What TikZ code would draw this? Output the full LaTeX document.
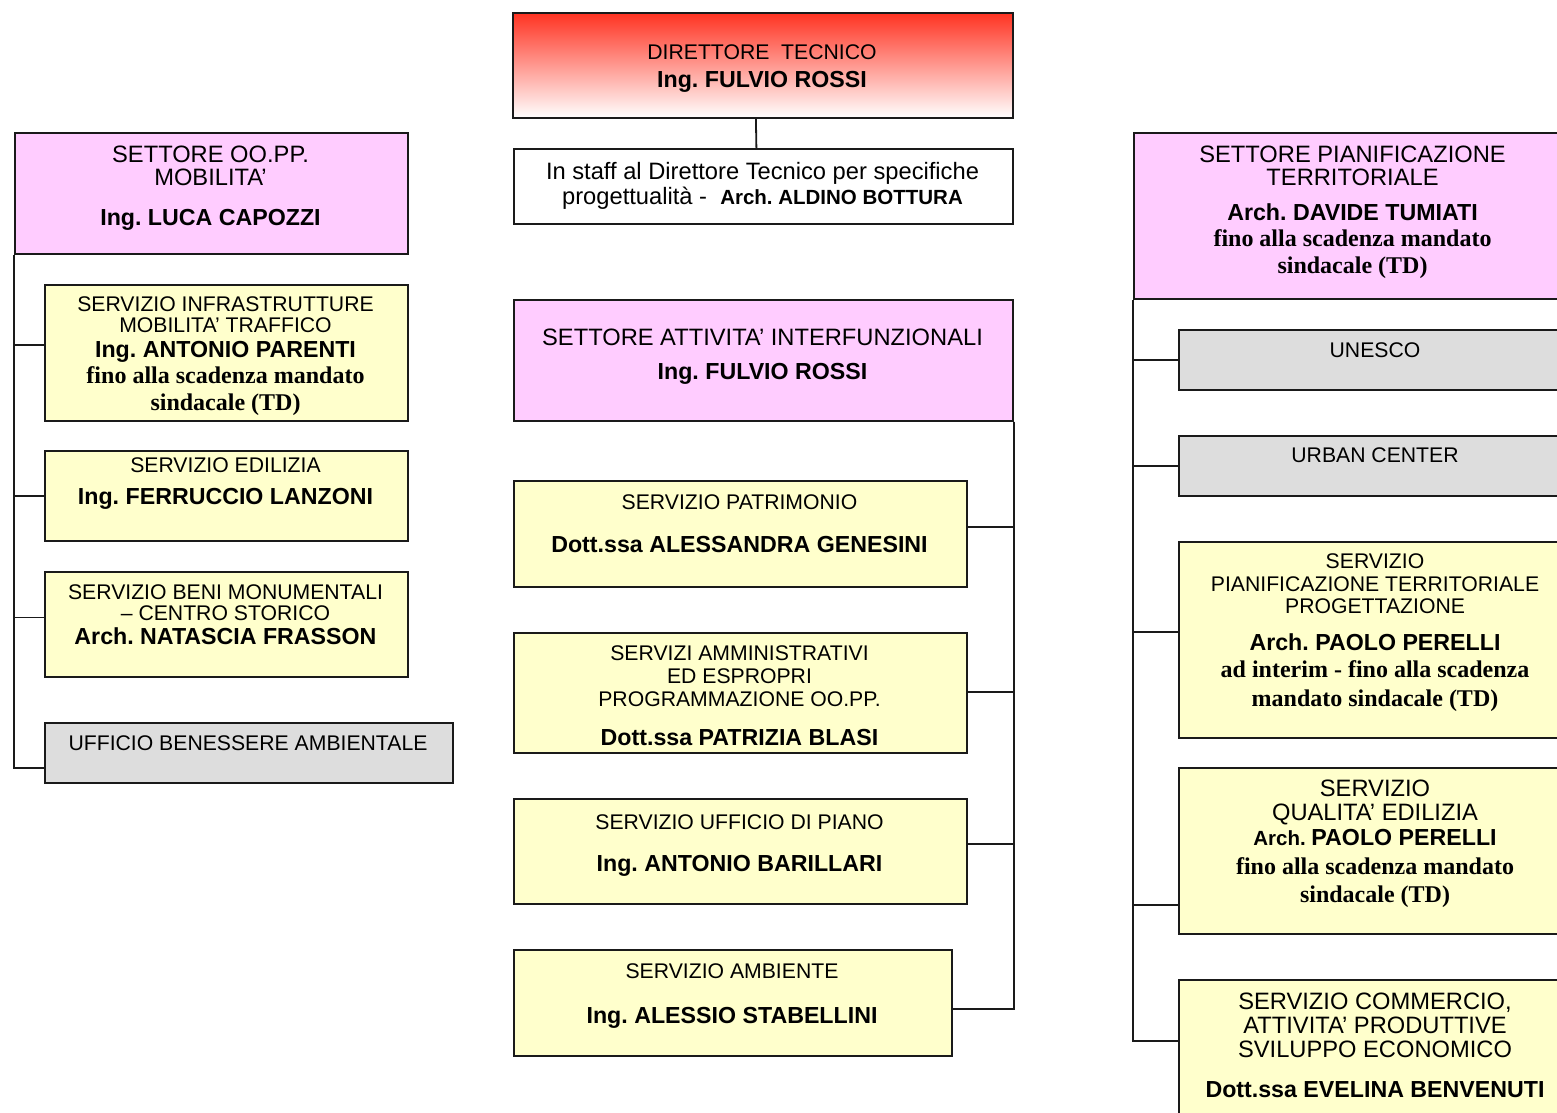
\documentclass[tikz,border=0pt]{standalone}
\usepackage{fontspec}
\setmainfont{Liberation Sans}
\newfontfamily\serifbf{Liberation Serif}
\definecolor{pinkc}{HTML}{FFCCFF}
\definecolor{yelc}{HTML}{FFFFCC}
\definecolor{grayc}{HTML}{DDDDDD}
\definecolor{redc}{HTML}{FF3322}
\definecolor{linec}{HTML}{1A1A1A}
\newcommand\frg{\fontsize{21.2}{0}\selectfont}
\newcommand\fset{\fontsize{23.7}{0}\selectfont}
\newcommand\fbd{\fontsize{23.2}{0}\selectfont\bfseries}
\newcommand\fbs{\fontsize{20.5}{0}\selectfont\bfseries}
\newcommand\ftm{\serifbf\fontsize{24}{0}\selectfont\bfseries}
\lineskiplimit=-1000pt
\lineskip=0pt
\frenchspacing
\tikzset{
  box/.style={draw=linec, line width=1.8pt, inner sep=0pt, anchor=north west},
  pinkbox/.style={box, fill=pinkc},
  yelbox/.style={box, fill=yelc},
  graybox/.style={box, fill=grayc},
  lbl/.style={anchor=north, align=center, inner sep=0pt, text=black, font=\frg},
  conn/.style={draw=linec, line width=1.8pt}
}
\begin{document}
\begin{tikzpicture}[x=1pt,y=-1pt]
\useasboundingbox (0,0) rectangle (1557,1112);
\fill[white] (0,0) rectangle (1557,1112);
\clip (0,0) rectangle (1557,1112);

% ---------- top ----------
\node[box, top color=redc, bottom color=white, minimum width=500pt, minimum height=105pt] (dir) at (512,12) {};
\node[box, fill=white, minimum width=499pt, minimum height=75pt] (staff) at (513,148) {};

% ---------- left column ----------
\node[pinkbox, minimum width=393pt, minimum height=121pt] (s1) at (14,132) {};
\node[yelbox, minimum width=363pt, minimum height=136pt] (infra) at (44,284) {};
\node[yelbox, minimum width=363pt, minimum height=90pt] (edil) at (44,450) {};
\node[yelbox, minimum width=363pt, minimum height=105pt] (beni) at (44,571) {};
\node[graybox, minimum width=408pt, minimum height=60pt] (benes) at (44,722) {};

% ---------- middle column ----------
\node[pinkbox, minimum width=499pt, minimum height=121pt] (s2) at (513,299) {};
\node[yelbox, minimum width=453pt, minimum height=106pt] (patr) at (513,480) {};
\node[yelbox, minimum width=453pt, minimum height=120pt] (amm) at (513,632) {};
\node[yelbox, minimum width=453pt, minimum height=105pt] (piano) at (513,798) {};
\node[yelbox, minimum width=438pt, minimum height=106pt] (amb) at (513,949) {};

% ---------- right column ----------
\node[pinkbox, minimum width=439pt, minimum height=166pt] (s3) at (1133,132) {};
\node[graybox, minimum width=394pt, minimum height=60pt] (unesco) at (1178,329) {};
\node[graybox, minimum width=394pt, minimum height=60pt] (urban) at (1178,435) {};
\node[yelbox, minimum width=394pt, minimum height=196pt] (spt) at (1178,541) {};
\node[yelbox, minimum width=394pt, minimum height=166pt] (qual) at (1178,767) {};
\node[yelbox, minimum width=394pt, minimum height=145pt] (comm) at (1178,979) {};

% ---------- connectors ----------
\draw[conn] ([xshift=-7pt]dir.south) -- ([xshift=-7pt]staff.north);

\draw[conn] (s1.south west) |- ([yshift=8pt]infra.west);
\draw[conn] (s1.south west) |- (edil.west);
\draw[conn] (s1.south west) |- ([yshift=7pt]beni.west);
\draw[conn] (s1.south west) |- ([yshift=-15pt]benes.west);

\draw[conn] (s2.south east) |- ([yshift=7pt]patr.east);
\draw[conn] (s2.south east) |- ([yshift=1pt]amm.east);
\draw[conn] (s2.south east) |- ([yshift=7.5pt]piano.east);
\draw[conn] (s2.south east) |- ([yshift=-6pt]amb.east);

\draw[conn] (s3.south west) |- (unesco.west);
\draw[conn] (s3.south west) |- (urban.west);
\draw[conn] (s3.south west) |- ([yshift=8pt]spt.west);
\draw[conn] (s3.south west) |- ([yshift=-54pt]qual.west);
\draw[conn] (s3.south west) |- ([yshift=11.5pt]comm.west);

% ---------- texts ----------
\node[lbl] (dir-t) at (762,44.5) {{\frg DIRETTORE\ \ TECNICO}\\[27.5pt]{\fbd Ing. FULVIO ROSSI}};
\node[lbl] (staff-t) at (762.5,161.7) {{\fset In staff al Direttore Tecnico per specifiche}\\[25.5pt]{\fset progettualità -\ \ }{\fbs Arch. ALDINO BOTTURA}};

\node[lbl] (s1-t) at (210.5,145.7) {{\fset SETTORE OO.PP.}\\[23.5pt]{\fset MOBILITA’}\\[39.5pt]{\fbd Ing. LUCA CAPOZZI}};
\node[lbl] (infra-t) at (225.5,296.5) {{\frg SERVIZIO INFRASTRUTTURE}\\[21pt]{\frg MOBILITA’ TRAFFICO}\\[24.5pt]{\fbd Ing. ANTONIO PARENTI}\\[26.5pt]{\ftm fino alla scadenza mandato}\\[27pt]{\ftm sindacale (TD)}};
\node[lbl] (edil-t) at (225.5,457.5) {{\frg SERVIZIO EDILIZIA}\\[32pt]{\fbd Ing. FERRUCCIO LANZONI}};
\node[lbl] (beni-t) at (225.5,584.5) {{\frg SERVIZIO BENI MONUMENTALI}\\[21pt]{\frg – CENTRO STORICO}\\[24pt]{\fbd Arch. NATASCIA FRASSON}};
\node[lbl] (benes-t) at (248,735.5) {{\frg UFFICIO BENESSERE AMBIENTALE}};

\node[lbl] (s2-t) at (762.5,328.7) {{\fset SETTORE ATTIVITA’ INTERFUNZIONALI}\\[34pt]{\fbd Ing. FULVIO ROSSI}};
\node[lbl] (patr-t) at (739.5,494.5) {{\frg SERVIZIO PATRIMONIO}\\[43pt]{\fbd Dott.ssa ALESSANDRA GENESINI}};
\node[lbl] (amm-t) at (739.5,645.5) {{\frg SERVIZI AMMINISTRATIVI}\\[23pt]{\frg ED ESPROPRI}\\[23pt]{\frg PROGRAMMAZIONE OO.PP.}\\[39pt]{\fbd Dott.ssa PATRIZIA BLASI}};
\node[lbl] (piano-t) at (739.5,814.5) {{\frg SERVIZIO UFFICIO DI PIANO}\\[42pt]{\fbd Ing. ANTONIO BARILLARI}};
\node[lbl] (amb-t) at (732,963.5) {{\frg SERVIZIO AMBIENTE}\\[45pt]{\fbd Ing. ALESSIO STABELLINI}};

\node[lbl] (s3-t) at (1352.5,145.7) {{\fset SETTORE PIANIFICAZIONE}\\[23.5pt]{\fset TERRITORIALE}\\[34.5pt]{\fbd Arch. DAVIDE TUMIATI}\\[26pt]{\ftm fino alla scadenza mandato}\\[27pt]{\ftm sindacale (TD)}};
\node[lbl] (unesco-t) at (1375,342.8) {{\frg UNESCO}};
\node[lbl] (urban-t) at (1375,447.8) {{\frg URBAN CENTER}};
\node[lbl] (spt-t) at (1375,553.5) {{\frg SERVIZIO}\\[22.5pt]{\frg PIANIFICAZIONE TERRITORIALE}\\[22pt]{\frg PROGETTAZIONE}\\[37.5pt]{\fbd Arch. PAOLO PERELLI}\\[27pt]{\ftm ad interim - fino alla scadenza}\\[29pt]{\ftm mandato sindacale (TD)}};
\node[lbl] (qual-t) at (1375,779.7) {{\fset SERVIZIO}\\[24pt]{\fset QUALITA’ EDILIZIA}\\[25pt]{\fbs Arch. }{\fbd PAOLO PERELLI}\\[29pt]{\ftm fino alla scadenza mandato}\\[28pt]{\ftm sindacale (TD)}};
\node[lbl] (comm-t) at (1375,992.7) {{\fset SERVIZIO COMMERCIO,}\\[24pt]{\fset ATTIVITA’ PRODUTTIVE}\\[24pt]{\fset SVILUPPO ECONOMICO}\\[40pt]{\fbd Dott.ssa EVELINA BENVENUTI}};
\end{tikzpicture}
\end{document}
